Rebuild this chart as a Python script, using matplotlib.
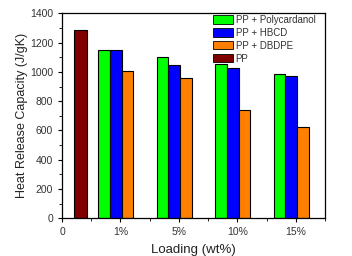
import matplotlib
matplotlib.use("Agg")
import matplotlib.pyplot as plt
from matplotlib.ticker import MultipleLocator
from matplotlib.patches import Patch

plt.rcParams['font.family'] = ['Liberation Sans', 'DejaVu Sans']

groups = ["1%", "5%", "10%", "15%"]
tick_labels = ["0", "1%", "5%", "10%", "15%"]
pp_value = 1283
polycardanol = [1147, 1099, 1051, 983]
hbcd = [1147, 1044, 1024, 969]
dbdpe = [1006, 956, 740, 623]

c_green = "#00ff00"
c_blue = "#0000ff"
c_orange = "#ff8000"
c_red = "#800000"

fig = plt.figure(figsize=(3.52, 2.56), dpi=100)
ax = fig.add_axes([62/352, 1-218.3/256, (325-62)/352, (218.3-13.3)/256])

pos = [1, 2, 3, 4]
w = 0.2
ax.bar([0.32], [pp_value], width=0.22, color=c_red, edgecolor="black", linewidth=0.8)
ax.bar([p - 0.28 for p in pos], polycardanol, width=w, color=c_green, edgecolor="black", linewidth=0.8)
ax.bar([p - 0.08 for p in pos], hbcd, width=w, color=c_blue, edgecolor="black", linewidth=0.8)
ax.bar([p + 0.12 for p in pos], dbdpe, width=w, color=c_orange, edgecolor="black", linewidth=0.8)

ax.set_xlim(0, 4.5)
ax.set_ylim(0, 1400)
ax.set_xticks([0, 1, 2, 3, 4])
ax.set_xticklabels(tick_labels)
ax.xaxis.set_minor_locator(MultipleLocator(0.5))
ax.yaxis.set_major_locator(MultipleLocator(200))
ax.yaxis.set_minor_locator(MultipleLocator(100))
ax.tick_params(axis='both', which='major', direction='out', length=3, width=0.8, labelsize=7.5, colors='black', labelcolor='#333333')
ax.tick_params(axis='both', which='minor', direction='out', length=2, width=0.6)
for s in ax.spines.values():
    s.set_linewidth(0.9)

ax.set_ylabel("Heat Release Capacity (J/gK)", fontsize=9, labelpad=1.5, color='#222222')
ax.set_xlabel("Loading (wt%)", fontsize=9.5, labelpad=5, color='#222222')

handles = [Patch(facecolor=c_green, edgecolor="black", linewidth=0.6),
           Patch(facecolor=c_blue, edgecolor="black", linewidth=0.6),
           Patch(facecolor=c_orange, edgecolor="black", linewidth=0.6),
           Patch(facecolor=c_red, edgecolor="black", linewidth=0.6)]
labels = ["PP + Polycardanol", "PP + HBCD", "PP + DBDPE", "PP"]
ax.legend(handles, labels, loc="upper left", frameon=False, fontsize=7,
          handlelength=2.05, handleheight=0.95, handletextpad=0.25, labelspacing=0.3,
          borderaxespad=0.0, borderpad=0.15, bbox_to_anchor=(0.57, 1.0),
          labelcolor='#333333')

fig.savefig("out.png", dpi=100)
